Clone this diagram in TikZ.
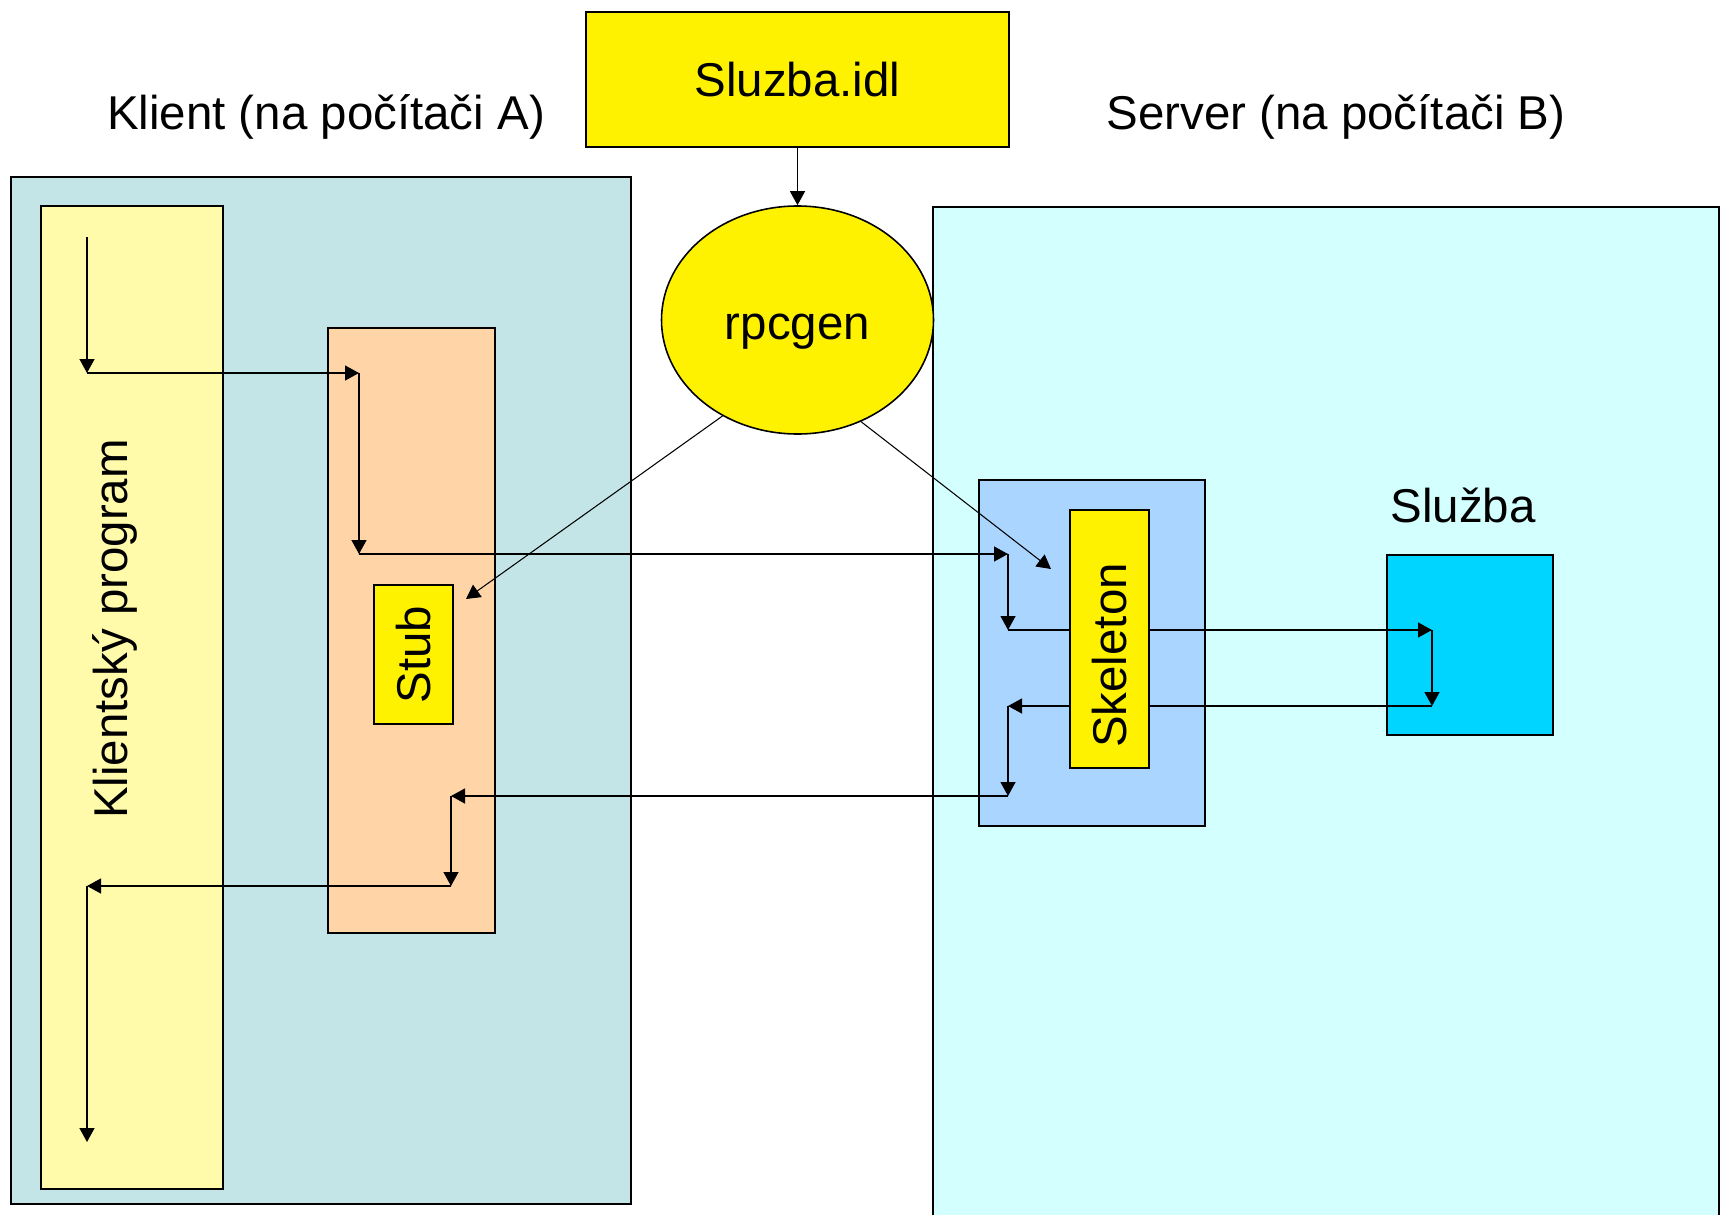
\documentclass[tikz,border=0pt]{standalone}
\usepackage{fontspec}
\setmainfont{Liberation Sans}
\usepackage{xcolor}
\usetikzlibrary{arrows.meta, shapes.geometric, positioning, calc}
\definecolor{klientbg}{HTML}{C4E5E7}
\definecolor{serverbg}{HTML}{D4FFFF}
\definecolor{progbg}{HTML}{FFFBAA}
\definecolor{stubbg}{HTML}{FFD5A8}
\definecolor{skelbg}{HTML}{AAD5FF}
\definecolor{sluzbabg}{HTML}{00D5FF}

\begin{document}
\begin{tikzpicture}[font=\fontsize{27}{32}\selectfont,
    box/.style={draw, rectangle, line width=1.3pt, inner sep=0pt},
    flow/.style={-{Triangle[length=0.28cm, width=0.3cm]}, line width=0.75pt}]
    \useasboundingbox (0,0) rectangle (34.42,-24.28);

    % Nodes
    \node[box, fill=klientbg, minimum width=12.40cm, minimum height=20.54cm] (klient) at (6.42,-13.81) {};
    \node[box, fill=serverbg, minimum width=15.72cm, minimum height=20.60cm] (server) at (26.52,-14.44) {};
    \node[box, fill=progbg, minimum width=3.64cm, minimum height=19.66cm] (prog) at (2.64,-13.95) {};
    \node[rotate=90] (progtext) at (2.30,-12.58) {Klientský program};
    \node[box, fill=stubbg, minimum width=3.34cm, minimum height=12.10cm] (stubbox) at (8.23,-12.61) {};
    \node[box, fill=yellow, rotate=90, minimum width=2.78cm, minimum height=1.58cm] (stub) at (8.27,-13.09) {Stub};
    \node[box, fill=yellow, line width=1.1pt, minimum width=8.46cm, minimum height=2.70cm] (idl) at (15.95,-1.59) {Sluzba.idl};
    \node[draw, ellipse, fill=yellow, line width=0.9pt, inner sep=0pt, minimum width=5.44cm, minimum height=4.56cm] (rpcgen) at (15.95,-6.40) {};
    \node (rpcgentext) at (15.95,-6.64) {rpcgen};
    \node[box, fill=skelbg, minimum width=4.52cm, minimum height=6.92cm] (skelbox) at (21.84,-13.06) {};
    \node[box, fill=sluzbabg, minimum width=3.32cm, minimum height=3.60cm] (sluzba) at (29.40,-12.90) {};

    % Labels
    \node (klientlabel) at (6.52,-2.33) {Klient (na počítači A)};
    \node (serverlabel) at (26.72,-2.33) {Server (na počítači B)};
    \node (sluzbalabel) at (29.26,-10.10) {Služba};

    % Corners of the call path
    \coordinate (a1) at (1.74,-4.74);
    \coordinate (a2) at (1.74,-7.46);
    \coordinate (a3) at (7.18,-7.46);
    \coordinate (a4) at (7.18,-11.08);
    \coordinate (a5) at (20.16,-11.08);
    \coordinate (a6) at (20.16,-12.60);
    \coordinate (a7) at (28.64,-12.60);
    \coordinate (a8) at (28.64,-14.12);
    \coordinate (a9) at (20.16,-14.12);
    \coordinate (a10) at (20.16,-15.92);
    \coordinate (a11) at (9.02,-15.92);
    \coordinate (a12) at (9.02,-17.72);
    \coordinate (a13) at (1.74,-17.72);
    \coordinate (a14) at (1.74,-22.84);
    \coordinate (stubtip) at (9.32,-11.98);
    \coordinate (skeltip) at (21.02,-11.38);

    % Edges
    \draw[flow] (idl) -- (rpcgen);
    \draw[flow, line width=0.6pt] (rpcgen.232) -- (stubtip);
    \draw[flow, line width=0.6pt] (rpcgen.302) -- (skeltip);
    \draw[flow] (a1) -- (a2);
    \draw[flow] (a2) -- (a3);
    \draw[flow] (a3) -- (a4);
    \draw[flow] (a4) -- (a5);
    \draw[flow] (a5) -- (a6);
    \draw[flow] (a6) -- (a7);
    \draw[flow] (a7) -- (a8);
    \draw[flow] (a8) -- (a9);
    \draw[flow] (a9) -- (a10);
    \draw[flow] (a10) -- (a11);
    \draw[flow] (a11) -- (a12);
    \draw[flow] (a12) -- (a13);
    \draw[flow] (a13) -- (a14);

    % Skeleton on top of the path
    \node[box, fill=yellow, minimum width=1.58cm, minimum height=5.16cm] (skel) at (22.19,-12.78) {};
    \node[rotate=90] (skeltext) at (22.19,-13.11) {Skeleton};
\end{tikzpicture}
\end{document}
